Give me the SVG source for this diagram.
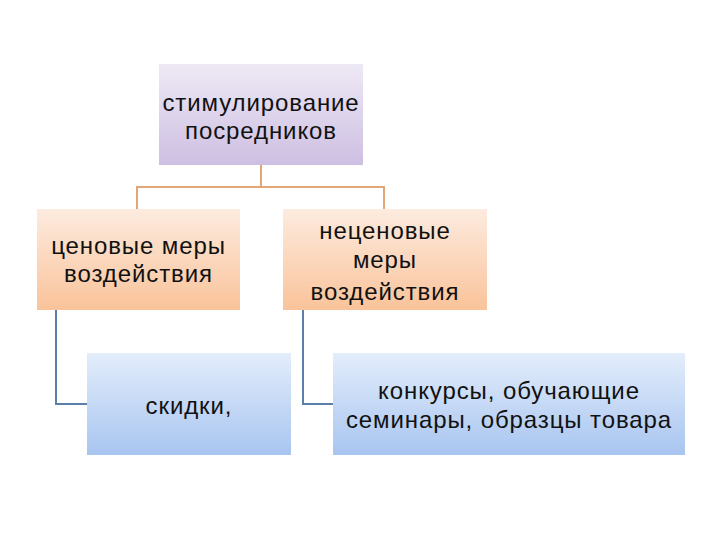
<svg xmlns="http://www.w3.org/2000/svg" width="720" height="540" viewBox="0 0 720 540">
<defs>
<linearGradient id="gP" x1="0" y1="0" x2="0" y2="1"><stop offset="0" stop-color="#eee9f5"/><stop offset="1" stop-color="#cdbfe2"/></linearGradient>
<linearGradient id="gO" x1="0" y1="0" x2="0" y2="1"><stop offset="0" stop-color="#fdebdf"/><stop offset="1" stop-color="#f9c39a"/></linearGradient>
<linearGradient id="gB" x1="0" y1="0" x2="0" y2="1"><stop offset="0" stop-color="#e3edfb"/><stop offset="1" stop-color="#a8c5f0"/></linearGradient>
</defs>
<style>
text{font-family:"Liberation Sans",Arial,sans-serif;font-size:24px;letter-spacing:0.9px;fill:#111111;text-anchor:middle}
.co{fill:none;stroke:#e3a575;stroke-width:2}
.cb{fill:none;stroke:#5a7fa8;stroke-width:2}
</style>
<rect width="720" height="540" fill="#ffffff"/>
<g id="connectors">
<path class="co" d="M261 165 V187 H137 V209 M261 187 H384 V209"/>
<path class="cb" d="M56 310 V404 H87"/>
<path class="cb" d="M303 310 V404 H333"/>
</g>
<g id="n-top">
<rect x="159" y="64" width="204" height="101" fill="url(#gP)"/>
<text x="261" y="111">стимулирование</text>
<text x="261" y="139">посредников</text>
</g>
<g id="n-price">
<rect x="37" y="209" width="203" height="101" fill="url(#gO)"/>
<text x="138.5" y="254">ценовые меры</text>
<text x="138.5" y="282">воздействия</text>
</g>
<g id="n-nonprice">
<rect x="283" y="209" width="204" height="101" fill="url(#gO)"/>
<text x="385" y="239">неценовые</text>
<text x="385" y="268">меры</text>
<text x="385" y="300">воздействия</text>
</g>
<g id="n-discount">
<rect x="87" y="353" width="204" height="102" fill="url(#gB)"/>
<text x="189" y="414">скидки,</text>
</g>
<g id="n-contests">
<rect x="333" y="353" width="352" height="102" fill="url(#gB)"/>
<text x="509" y="399">конкурсы, обучающие</text>
<text x="509" y="428">семинары, образцы товара</text>
</g>
</svg>
